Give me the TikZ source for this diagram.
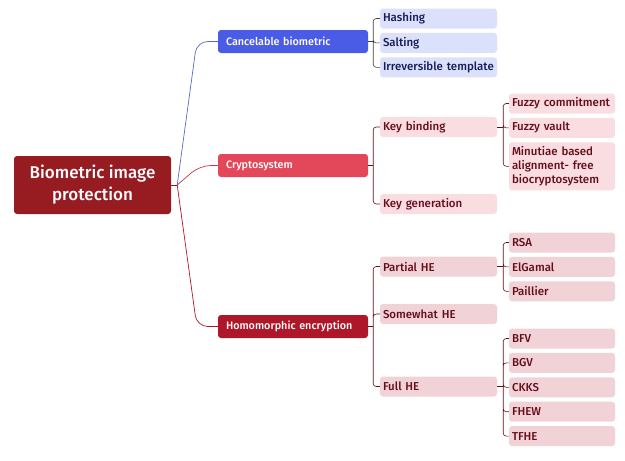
\documentclass[tikz,border=0pt]{standalone}
\usepackage{fontspec}
\setmainfont{Fira Sans}[BoldFont={Fira Sans Medium}]
\usepackage{tikz}
\usetikzlibrary{positioning}
\definecolor{rootred}{HTML}{961C22}
\definecolor{cbblue}{HTML}{4A5CE6}
\definecolor{cryred}{HTML}{E2475A}
\definecolor{hered}{HTML}{AE1729}
\definecolor{bluefill}{HTML}{DCE1FB}
\definecolor{pinkfill}{HTML}{FADDE1}
\definecolor{hefill}{HTML}{F1D2D6}
\definecolor{navytext}{HTML}{161C5C}
\definecolor{wine}{HTML}{650E1B}

\begin{document}
\begin{tikzpicture}[x=1pt,y=-1pt,node distance=4pt,
 box/.style={rounded corners=3pt,inner xsep=3pt,inner ysep=0pt,minimum height=20pt,
  align=left,font=\bfseries\fontsize{11.5}{14}\selectfont},
 topic/.style={box,inner xsep=8pt,text width=134pt,minimum height=23pt,text=white,
  font=\bfseries\fontsize{10.8}{13}\selectfont},
 bluesub/.style={box,text width=111pt,fill=bluefill,text=navytext},
 cryitem/.style={box,text width=100pt,fill=pinkfill,text=wine},
 crysub/.style={cryitem,text width=111pt},
 heitem/.style={box,text width=100pt,fill=hefill,text=wine},
 hesub/.style={heitem,text width=111pt},
 link/.style={draw,line width=0.7pt,rounded corners=11pt},
 bracket/.style={draw,line width=0.6pt,rounded corners=3pt}]
\useasboundingbox (0,0) rectangle (625,461);

% root and main branches
\node[fill=rootred,text=white,rounded corners=3pt,minimum width=157pt,minimum height=58pt,
 align=center,font=\bfseries\fontsize{17}{22}\selectfont] (root) at (92.5,185) {Biometric image\\protection};
\node[topic,fill=cbblue] (cb) at (293,41.5) {Cancelable biometric};
\node[topic,fill=cryred] (cry) at (293,165.5) {Cryptosystem};
\node[topic,fill=hered] (he) at (293,326.5) {Homomorphic encryption};

\draw[rootred,line width=0.7pt] (root.east) -- ++(6,0) coordinate (rj);
\draw[link,cbblue!70!gray] (rj) -- ([xshift=-21pt]cb.west) -- (cb.west);
\draw[link,cryred!85!black] (rj) -- ([xshift=-18pt]cry.west) -- (cry.west);
\draw[link,hered] (rj) -- ([xshift=-21pt]he.west) -- (he.west);

% cancelable biometric
\node[bluesub] (hash) at (438.5,18.5) {Hashing};
\node[bluesub,below=of hash] (salt) {Salting};
\node[bluesub,below=of salt] (irr) {Irreversible template};
\draw[bracket,black!75] (cb.east) -- ++(5,0) coordinate (cbj);
\draw[bracket,black!75] (cbj) |- (hash.west) (cbj) |- (salt.west) (cbj) |- (irr.west);

% cryptosystem
\node[crysub] (kb) at (438.5,127) {Key binding};
\node[crysub] (kg) at (438.5,204) {Key generation};
\node[cryitem] (fc) at (562,103.5) {Fuzzy commitment};
\node[cryitem,below=of fc] (fv) {Fuzzy vault};
\node[cryitem,below=of fv,minimum height=48pt] (mba) {Minutiae based\\alignment- free\\biocryptosystem};
\draw[bracket,wine] (cry.east) -- ++(5,0) coordinate (cryj);
\draw[bracket,wine] (cryj) |- (kb.west) (cryj) |- (kg.west);
\draw[bracket,wine] (kb.east) -- ++(6,0) coordinate (kbj);
\draw[bracket,wine] (kbj) |- (fc.west) (kbj) |- (fv.west) (kbj) |- (mba.west);

% homomorphic encryption
\node[hesub] (phe) at (438.5,266.5) {Partial HE};
\node[hesub] (swhe) at (438.5,314) {Somewhat HE};
\node[hesub] (fhe) at (438.5,386.5) {Full HE};
\node[heitem] (rsa) at (562,242.5) {RSA};
\node[heitem,below=of rsa] (elg) {ElGamal};
\node[heitem,below=of elg] (pai) {Paillier};
\node[heitem] (bfv) at (562,338.5) {BFV};
\node[heitem,below=of bfv] (bgv) {BGV};
\node[heitem,below=of bgv] (ckks) {CKKS};
\node[heitem,below=of ckks] (fhew) {FHEW};
\node[heitem,below=of fhew] (tfhe) {TFHE};
\draw[bracket,wine] (he.east) -- ++(5,0) coordinate (hej);
\draw[bracket,wine] (hej) |- (phe.west) (hej) |- (swhe.west) (hej) |- (fhe.west);
\draw[bracket,wine] (phe.east) -- ++(6,0) coordinate (phej);
\draw[bracket,wine] (phej) |- (rsa.west) (phej) |- (elg.west) (phej) |- (pai.west);
\draw[bracket,wine] (fhe.east) -- ++(6,0) coordinate (fhej);
\draw[bracket,wine] (fhej) |- (bfv.west) (fhej) |- (bgv.west) (fhej) |- (ckks.west)
 (fhej) |- (fhew.west) (fhej) |- (tfhe.west);
\end{tikzpicture}
\end{document}
